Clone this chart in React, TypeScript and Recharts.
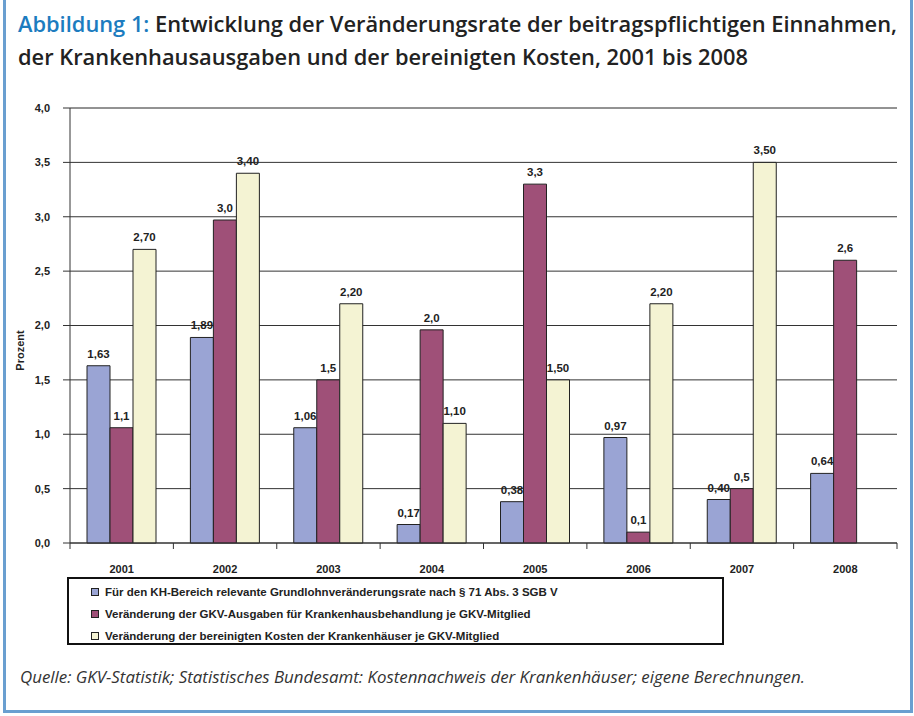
import { Bar, BarChart, CartesianGrid, LabelList, ReferenceLine, XAxis, YAxis } from "recharts";

const years = ["2001", "2002", "2003", "2004", "2005", "2006", "2007", "2008"];
const grundlohn = [1.63, 1.89, 1.06, 0.17, 0.38, 0.97, 0.4, 0.64];
const ausgaben = [1.06, 2.97, 1.5, 1.96, 3.3, 0.1, 0.5, 2.6];
const kosten: (number | null)[] = [2.7, 3.4, 2.2, 1.1, 1.5, 2.2, 3.5, null];
const yTicks = [0, 0.5, 1, 1.5, 2, 2.5, 3, 3.5, 4];

const seriesNames = [
  "Für den KH-Bereich relevante Grundlohnveränderungsrate nach § 71 Abs. 3 SGB V",
  "Veränderung der GKV-Ausgaben für Krankenhausbehandlung je GKV-Mitglied",
  "Veränderung der bereinigten Kosten der Krankenhäuser je GKV-Mitglied",
];

const COLORS = ["#9aa4d4", "#9f5078", "#f4f3d3"];
const INK = "#222";
const ARIAL = "'Liberation Sans', Arial, sans-serif";
const X_TICK_SIZE = 6;
const X_TICK_MARGIN = 16;

const data = years.map((year, i) => ({
  year,
  grundlohn: grundlohn[i],
  ausgaben: ausgaben[i],
  kosten: kosten[i],
}));

const fmt = (digits: number) => (v: unknown) =>
  v == null || v === "" ? "" : Number(v).toFixed(digits).replace(".", ",");

function XTick(props: any) {
  const { x, y, payload, index, visibleTicksCount, width } = props;
  const half = payload.offset ?? width / visibleTicksCount / 2;
  const axisY = y - X_TICK_SIZE - X_TICK_MARGIN;
  const last = index === visibleTicksCount - 1;
  return (
    <g>
      <line x1={x - half} x2={x - half} y1={axisY} y2={axisY + X_TICK_SIZE} stroke="#333" />
      {last && <line x1={x + half} x2={x + half} y1={axisY} y2={axisY + X_TICK_SIZE} stroke="#333" />}
      <text x={x} y={y} dy="0.71em" textAnchor="middle" fontFamily={ARIAL} fontWeight="bold" fontSize={11} fill={INK}>
        {payload.value}
      </text>
    </g>
  );
}

const labelStyle = { fontFamily: ARIAL, fontWeight: "bold" as const, fontSize: 11, fill: INK };
const barLabelStyle = { ...labelStyle, fontSize: 11.5 };

export default function App() {
  return (
    <div style={{ position: "absolute", left: 0, top: 0, width: 914, height: 716, background: "#fff", overflow: "hidden" }}>
      <div
        style={{
          position: "absolute",
          left: 3,
          top: -4,
          width: 910,
          height: 717,
          boxSizing: "border-box",
          border: "3px solid #6a9fd0",
        }}
      />
      <svg width={914} height={80} style={{ position: "absolute", left: 0, top: 0 }}>
        <text x={18} y={32} fontFamily="'Open Sans', sans-serif" fontWeight={600} fontSize={21} fill={INK} textLength={879} lengthAdjust="spacingAndGlyphs">
          <tspan fill="#1c7cbf">Abbildung 1: </tspan>
          Entwicklung der Veränderungsrate der beitragspflichtigen Einnahmen,
        </text>
        <text x={18} y={65} fontFamily="'Open Sans', sans-serif" fontWeight={600} fontSize={21} fill={INK} textLength={730} lengthAdjust="spacingAndGlyphs">
          der Krankenhausausgaben und der bereinigten Kosten, 2001 bis 2008
        </text>
      </svg>

      <div style={{ position: "absolute", left: 0, top: 0 }}>
        <BarChart
          width={914}
          height={600}
          data={data}
          margin={{ top: 108, right: 17, left: 10, bottom: 27 }}
          barCategoryGap={17}
          barGap={0}
        >
          <CartesianGrid vertical={false} stroke="#333" strokeWidth={1} />
          <XAxis
            dataKey="year"
            height={30}
            tickLine={false}
            axisLine={{ stroke: "#333" }}
            tickSize={X_TICK_SIZE}
            tickMargin={X_TICK_MARGIN}
            tick={<XTick />}
            interval={0}
          />
          <YAxis
            width={60}
            domain={[0, 4]}
            ticks={yTicks}
            interval={0}
            tickFormatter={(v: number) => v.toFixed(1).replace(".", ",")}
            tick={labelStyle}
            tickSize={7}
            tickMargin={13}
            tickLine={{ stroke: "#333" }}
            axisLine={{ stroke: "#333" }}
            label={{
              content: ({ viewBox }: any) => {
                const cx = viewBox.x + 10;
                const cy = viewBox.y + viewBox.height / 2 + 25;
                return (
                  <text
                    x={cx}
                    y={cy}
                    transform={`rotate(-90 ${cx} ${cy})`}
                    textAnchor="middle"
                    dominantBaseline="central"
                    {...labelStyle}
                  >
                    Prozent
                  </text>
                );
              },
            }}
          />
          <YAxis
            yAxisId="right"
            orientation="right"
            width={0}
            domain={[0, 4]}
            tick={false}
            tickLine={false}
            axisLine={{ stroke: "#8c8c8c" }}
          />
          <ReferenceLine y={4} stroke="#8c8c8c" />
          <Bar dataKey="grundlohn" fill={COLORS[0]} stroke={INK} strokeWidth={1} isAnimationActive={false}>
            <LabelList dataKey="grundlohn" position="top" offset={8} formatter={fmt(2)} style={barLabelStyle} />
          </Bar>
          <Bar dataKey="ausgaben" fill={COLORS[1]} stroke={INK} strokeWidth={1} isAnimationActive={false}>
            <LabelList dataKey="ausgaben" position="top" offset={8} formatter={fmt(1)} style={barLabelStyle} />
          </Bar>
          <Bar dataKey="kosten" fill={COLORS[2]} stroke={INK} strokeWidth={1} isAnimationActive={false}>
            <LabelList dataKey="kosten" position="top" offset={8} formatter={fmt(2)} style={barLabelStyle} />
          </Bar>
        </BarChart>
      </div>

      <div
        style={{
          position: "absolute",
          left: 67,
          top: 577,
          width: 657,
          height: 68,
          boxSizing: "border-box",
          border: "2px solid #111",
          paddingTop: 2,
          fontFamily: ARIAL,
          fontWeight: "bold",
          fontSize: 11.5,
          color: INK,
        }}
      >
        {seriesNames.map((name, i) => (
          <div key={name} style={{ height: 22, display: "flex", alignItems: "center", paddingLeft: 22 }}>
            <span
              style={{
                display: "inline-block",
                width: 6,
                height: 6,
                border: `1px solid ${INK}`,
                background: COLORS[i],
                marginRight: 6,
              }}
            />
            {name}
          </div>
        ))}
      </div>

      <svg width={914} height={40} style={{ position: "absolute", left: 0, top: 660 }}>
        <text x={20} y={23} fontFamily="'Open Sans', sans-serif" fontStyle="italic" fontWeight={400} fontSize={17} fill="#333" textLength={785} lengthAdjust="spacingAndGlyphs">
          Quelle: GKV-Statistik; Statistisches Bundesamt: Kostennachweis der Krankenhäuser; eigene Berechnungen.
        </text>
      </svg>
    </div>
  );
}
